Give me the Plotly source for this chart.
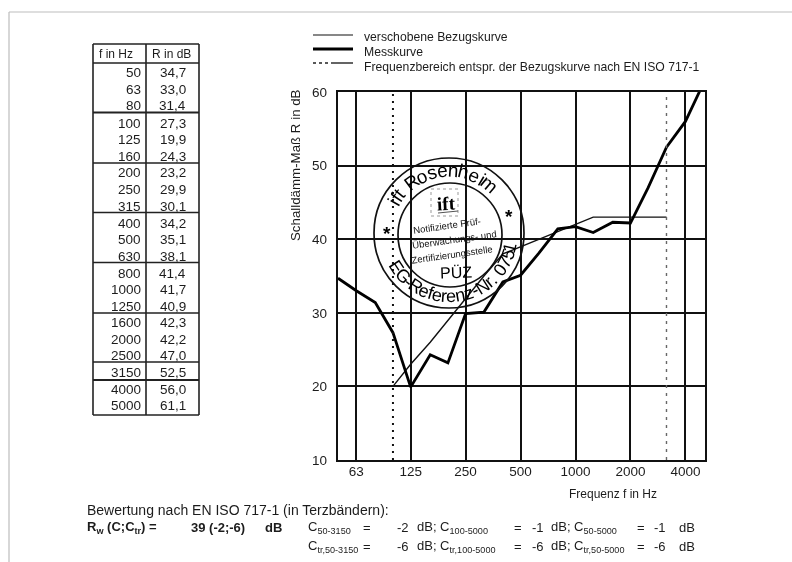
import math
import plotly.graph_objects as go

W, H = 792, 562
FONT = "Liberation Sans"
INK = "#1c1c1c"

freq = [50, 63, 80, 100, 125, 160, 200, 250, 315, 400, 500, 630, 800, 1000, 1250, 1600, 2000, 2500, 3150, 4000, 5000]
measured = [34.7, 33.0, 31.4, 27.3, 19.9, 24.3, 23.2, 29.9, 30.1, 34.2, 35.1, 38.1, 41.4, 41.7, 40.9, 42.3, 42.2, 47.0, 52.5, 56.0, 61.1]
ref_freq = [100, 125, 160, 200, 250, 315, 400, 500, 630, 800, 1000, 1250, 1600, 2000, 2500, 3150]
ref_values = [20, 23, 26, 29, 32, 35, 38, 39, 40, 41, 42, 43, 43, 43, 43, 43]
range_low = [100, 100]
range_high = [3150, 3150]
range_y = [10, 60]
x_ticks = [63, 125, 250, 500, 1000, 2000, 4000]
y_ticks = [10, 20, 30, 40, 50, 60]
series_names = ["verschobene Bezugskurve", "Messkurve", "Frequenzbereich entspr. der Bezugskurve nach EN ISO 717-1"]

row_y = [72, 89, 105, 123, 139.5, 156, 173, 189, 206, 223, 239, 256, 273, 289, 306, 322, 339, 355, 372, 389, 405]
rule_y = [(44, 1.6), (63, 1.6), (112.5, 2), (163, 1.6), (212.5, 1.6), (262.5, 1.6), (313, 1.6), (362, 1.6), (380, 2.2), (415, 1.6)]


def px(x):
    return x / W


def py(y):
    return 1 - y / H


annotations = []
shapes = []


def text(x, y, s, size=13, anchor="left", angle=0, color=INK, family=FONT):
    annotations.append(dict(xref="paper", yref="paper", x=px(x), y=py(y), text=s, showarrow=False,
                            xanchor=anchor, yanchor="middle", textangle=angle, borderpad=0,
                            font=dict(family=family, size=size, color=color)))


def line(x0, y0, x1, y1, width=1.5, color="#222", dash="solid"):
    shapes.append(dict(type="line", xref="paper", yref="paper", x0=px(x0), y0=py(y0), x1=px(x1), y1=py(y1),
                       line=dict(color=color, width=width, dash=dash)))


def circle(cx, cy, r, width=1.4):
    shapes.append(dict(type="circle", xref="paper", yref="paper", x0=px(cx - r), x1=px(cx + r),
                       y0=py(cy + r), y1=py(cy - r), line=dict(color="#111", width=width)))


# page edge
line(9, 12, 792, 12, 1.2, "#bdbdbd")
line(9, 12, 9, 562, 1.2, "#bdbdbd")

# legend
line(313, 35, 353, 35, 1.2, "#111")
line(313, 49, 353, 49, 3, "#000")
line(313, 63, 331, 63, 1.4, "#222", "dot")
line(331, 63, 353, 63, 1.4, "#222")
text(363, 37, series_names[0], 12.2)
text(363, 52, series_names[1], 12.2)
text(363, 67, series_names[2], 12.2)

# table
for x in (93, 146, 199):
    line(x, 44, x, 415, 1.6)
for y, w in rule_y:
    line(93, y, 199, y, w)
text(98, 54, "f in Hz", 12)
text(151, 54, "R in dB", 12)
for f, r, y in zip(freq, measured, row_y):
    text(142, y, str(f), 13.5, "right")
    text(187, y, f"{r:.1f}".replace(".", ","), 13.5, "right")

# axis titles
text(295, 165, "Schalldämm-Maß R in dB", 13.3, "center", -90)
text(613, 494, "Frequenz f in Hz", 12, "center")

# stamp
NARROW = set("ifltrI.,-1 ")
WIDE = set("mRNGE")


def char_w(c):
    return 0.55 if c in NARROW else (1.25 if c in WIDE else 1.0)


def arc_text(s, start, end, r, cx, cy, size, bottom=False):
    ws = [char_w(c) for c in s]
    total = sum(ws)
    pos = 0
    for c, w in zip(s, ws):
        a = start + (end - start) * (pos + w / 2) / total
        pos += w
        if c == " ":
            continue
        rad = math.radians(a)
        if bottom:
            x, y = cx + r * math.sin(rad), cy + r * math.cos(rad)
            rot = -a
        else:
            x, y = cx + r * math.sin(rad), cy - r * math.cos(rad)
            rot = a
        text(x, y, c, size, "center", rot, "#000")


circle(449, 233, 75, 1.7)
circle(450, 235, 52, 1.7)
arc_text("ift Rosenheim", -64, 46, 63, 449, 233, 19)
arc_text("EG-Referenz-Nr. 0751", -62, 79, 63, 449, 233, 18, bottom=True)
text(387, 233, "<b>*</b>", 19, "center", 0, "#000")
text(509, 216, "<b>*</b>", 19, "center", 0, "#000")
shapes.append(dict(type="rect", xref="paper", yref="paper", x0=px(431), x1=px(458), y0=py(216), y1=py(189),
                   line=dict(color="#999", width=1, dash="dot")))
text(446, 204, "<b>ift</b>", 19, "center", -3, "#000", "Liberation Serif")
line(438, 213, 458, 211, 1, "#555")
text(447, 226, "Notifizierte Prüf-", 9.5, "center", -8, "#111")
text(454, 240, "Überwachungs- und", 9.5, "center", -8, "#111")
text(452, 254, "Zertifizierungsstelle", 9.5, "center", -8, "#111")
text(456, 272, "PÜZ", 16, "center", -2, "#000")

# footer
text(86, 510, "Bewertung nach EN ISO 717-1 (in Terzbändern):", 14)
text(86, 527, "<b>R<sub>w</sub> (C;C<sub>tr</sub>) =</b>", 13)
text(190, 527, "<b>39 (-2;-6)</b>", 13)
text(264, 527, "<b>dB</b>", 13)
row1 = [(307, "C<sub>50-3150</sub>"), (362, "="), (396, "-2"), (416, "dB; C<sub>100-5000</sub>"), (513, "="), (531, "-1"),
        (550, "dB; C<sub>50-5000</sub>"), (636, "="), (653, "-1"), (678, "dB")]
row2 = [(307, "C<sub>tr,50-3150</sub>"), (362, "="), (396, "-6"), (416, "dB; C<sub>tr,100-5000</sub>"), (513, "="), (531, "-6"),
        (550, "dB; C<sub>tr,50-5000</sub>"), (636, "="), (653, "-6"), (678, "dB")]
for x, s in row1:
    text(x, 527, s, 13)
for x, s in row2:
    text(x, 546, s, 13)

fig = go.Figure()
fig.add_trace(go.Scatter(x=ref_freq, y=ref_values, name=series_names[0], mode="lines",
                         line=dict(color="#111", width=1.4)))
fig.add_trace(go.Scatter(x=freq, y=measured, name=series_names[1], mode="lines",
                         line=dict(color="#000", width=2.8)))
fig.add_trace(go.Scatter(x=range_low, y=range_y, name=series_names[2], mode="lines",
                         line=dict(color="#111", width=2, dash="2px,5px")))
fig.add_trace(go.Scatter(x=range_high, y=range_y, name=series_names[2], mode="lines", showlegend=False,
                         line=dict(color="#666", width=1.4, dash="3px,5px")))

fig.update_layout(
    width=W, height=H, margin=dict(l=0, r=0, t=0, b=0, autoexpand=False), paper_bgcolor="white", plot_bgcolor="white",
    showlegend=False,
    font=dict(family=FONT, size=13, color=INK),
    xaxis=dict(type="log", domain=[px(338), px(705)], range=[math.log10(50), math.log10(5120)],
               tickmode="array", tickvals=x_ticks, ticktext=[str(v) for v in x_ticks],
               showgrid=True, gridcolor="#111", gridwidth=2, zeroline=False,
               showline=True, linecolor="#111", linewidth=2.4, mirror=True, ticks="",
               ticklabelstandoff=-2, tickfont=dict(family=FONT, size=13.5, color=INK)),
    yaxis=dict(domain=[py(460), py(92)], range=[10, 60], tickmode="array", tickvals=y_ticks,
               showgrid=True, gridcolor="#111", gridwidth=2, zeroline=False,
               showline=True, linecolor="#111", linewidth=2.4, mirror=True, ticks="",
               ticklabelstandoff=6, tickfont=dict(family=FONT, size=13.5, color=INK)),
    shapes=shapes, annotations=annotations,
)
fig.write_html("out.html", config={"displayModeBar": False},
               post_script="document.body.style.margin='0';document.body.style.overflow='hidden';"
                           "document.querySelector('.plot-container').style.filter='blur(0.4px)';")
